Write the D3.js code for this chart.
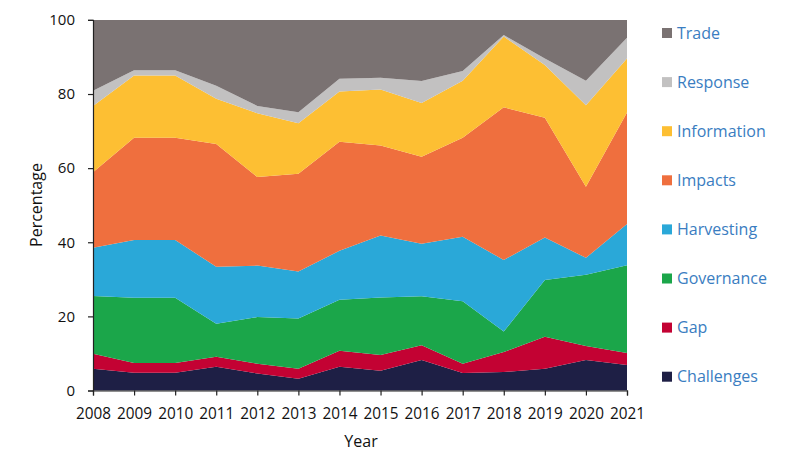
<!DOCTYPE html>
<html><head><meta charset="utf-8">
<script src="https://cdn.jsdelivr.net/npm/d3@7"></script>
<style>body{margin:0;background:#fff;}svg{display:block;}</style>
</head><body>
<svg id="c" width="789" height="474"></svg>
<script>
const years = [2008,2009,2010,2011,2012,2013,2014,2015,2016,2017,2018,2019,2020,2021];
const seriesNames = ["Challenges","Gap","Governance","Harvesting","Impacts","Information","Response","Trade"];
const challenges  = [5.9,4.8,4.8,6.4,4.6,3.2,6.4,5.3,8.2,4.7,5.0,5.9,8.2,6.9];
const gap         = [4.0,2.6,2.6,2.7,2.6,2.7,4.3,4.3,4.0,2.5,5.4,8.6,3.8,3.2];
const governance  = [15.6,17.6,17.6,8.9,12.6,13.5,13.8,15.5,13.2,16.9,5.5,15.3,19.2,23.7];
const harvesting  = [13.0,15.6,15.6,15.4,13.9,12.7,13.2,16.7,14.2,17.4,19.3,11.5,4.6,11.1];
const impacts     = [20.4,27.6,27.6,33.1,23.9,26.4,29.4,24.3,23.5,26.7,41.2,32.3,19.2,30.1];
const information = [17.9,16.8,16.8,12.2,17.2,13.6,13.6,15.1,14.5,15.4,19.1,14.2,22.0,14.6];
const response    = [4.1,1.4,1.4,3.5,2.0,3.0,3.4,3.2,5.9,2.6,0.4,1.8,6.6,5.6];
const trade       = [19.1,13.6,13.6,17.8,23.2,24.9,15.9,15.6,16.5,13.8,4.1,10.4,16.4,4.8];
const yTicks = [0,20,40,60,80,100];
const colors = ["#1e1f45","#c30233","#1ba64a","#2aa8d8","#ef6f3e","#fdbf33","#c2c1c1","#7a7272"];

const valuesBySeries = [challenges,gap,governance,harvesting,impacts,information,response,trade];
const table = years.map((y,i)=>{const o={year:y};seriesNames.forEach((n,k)=>o[n]=valuesBySeries[k][i]);return o;});

const svg = d3.select("#c");
const x = d3.scaleLinear().domain([2008,2021]).range([93,627]);
const y = d3.scaleLinear().domain([0,100]).range([390.5,19.9]);

const stack = d3.stack().keys(seriesNames);
const layers = stack(table);
const area = d3.area().x(d=>x(d.data.year)).y0(d=>y(d[0])).y1(d=>y(d[1]));

svg.append("g").selectAll("path").data(layers).join("path")
  .attr("d",area).attr("fill",(d,i)=>colors[i]);

const font = "'Open Sans', 'Noto Sans', sans-serif";
const gy = svg.append("g").attr("transform","translate(93,0)")
  .call(d3.axisLeft(y).tickValues(yTicks).tickSize(5).tickPadding(13));
const gx = svg.append("g").attr("transform","translate(0,390.5)")
  .call(d3.axisBottom(x).tickValues(years).tickFormat(d3.format("d")).tickSize(5).tickPadding(12));
[gy,gx].forEach(g=>{
  g.select(".domain").attr("stroke","#222").attr("stroke-width",1.2);
  g.selectAll(".tick line").attr("stroke","#222").attr("stroke-width",1.2);
  g.selectAll("text").attr("fill","#111").style("font-family",font);
});
gy.selectAll("text").style("font-size","15px");
gx.selectAll("text").style("font-size","16px").attr("textLength",35).attr("lengthAdjust","spacingAndGlyphs");

svg.append("text").attr("x",361).attr("y",447).attr("text-anchor","middle")
  .style("font-family",font).style("font-size","16px").attr("fill","#111").text("Year");
svg.append("text").attr("transform","translate(42,205) rotate(-90)").attr("text-anchor","middle")
  .style("font-family",font).style("font-size","16px").attr("fill","#111").text("Percentage");

const legendOrder = seriesNames.slice().reverse();
const lg = svg.append("g").selectAll("g").data(legendOrder).join("g")
  .attr("transform",(d,i)=>`translate(662,${33+i*49.1})`);
lg.append("rect").attr("x",0).attr("y",-5).attr("width",10).attr("height",10)
  .attr("fill",d=>colors[seriesNames.indexOf(d)]);
lg.append("text").attr("x",15).attr("y",0).attr("dy","0.36em")
  .style("font-family",font).style("font-size","16px").attr("fill","#3a7dc1").text(d=>d);
</script>
</body></html>
